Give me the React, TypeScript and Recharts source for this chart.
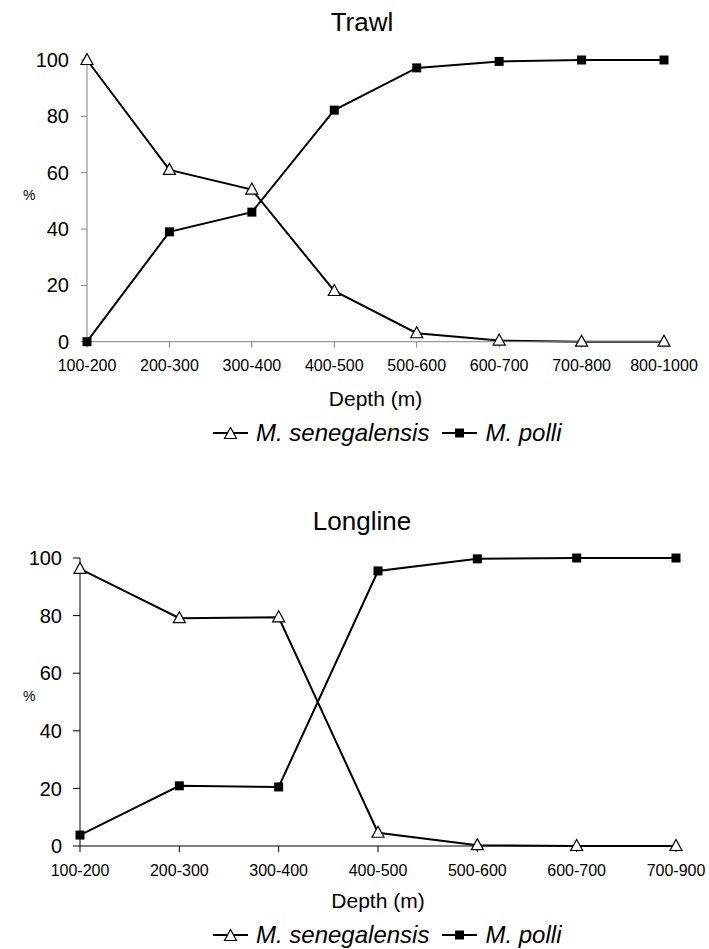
import React from 'react';
import { LineChart, Line, XAxis, YAxis, Legend } from 'recharts';

const FONT = '"Liberation Sans", Arial, sans-serif';

const trawlDepths = ['100-200', '200-300', '300-400', '400-500', '500-600', '600-700', '700-800', '800-1000'];
const trawlSenegalensis = [100, 61, 54, 18, 3, 0.4, 0, 0];
const trawlPolli = [0, 39, 46, 82.2, 97.2, 99.5, 100, 100];

const longlineDepths = ['100-200', '200-300', '300-400', '400-500', '500-600', '600-700', '700-900'];
const longlineSenegalensis = [96.2, 79.1, 79.4, 4.6, 0.3, 0, 0];
const longlinePolli = [3.8, 20.9, 20.5, 95.5, 99.7, 100, 100];

const yTicks = [0, 20, 40, 60, 80, 100];
const legendOrder = ['senegalensis', 'polli'];

const TriangleDot = ({ cx, cy }: any) => {
    if (cx == null || cy == null) return null;
    return (
        <path
            d={`M${cx},${cy - 6.5} L${cx + 6},${cy + 4.5} L${cx - 6},${cy + 4.5} Z`}
            fill="#fff"
            stroke="#000"
            strokeWidth={1.2}
        />
    );
};

const SquareDot = ({ cx, cy }: any) => {
    if (cx == null || cy == null) return null;
    return <rect x={cx - 4.5} y={cy - 4.5} width={9} height={9} fill="#000" />;
};

const LegendContent = ({ payload }: any) => {
    const items = [...(payload || [])].sort(
        (a: any, b: any) => legendOrder.indexOf(a.dataKey) - legendOrder.indexOf(b.dataKey)
    );
    return (
        <div style={{ display: 'flex', alignItems: 'center', paddingLeft: 213, fontFamily: FONT, fontStyle: 'italic', fontSize: 24, lineHeight: '26px', color: '#000' }}>
            {items.map((entry: any, i: number) => (
                <div key={entry.value} style={{ display: 'flex', alignItems: 'center', marginRight: i === 0 ? 13 : 0 }}>
                    <svg width={35} height={14}>
                        <line x1={0} y1={7} x2={35} y2={7} stroke="#000" strokeWidth={2} />
                        {entry.dataKey === 'senegalensis' ? <TriangleDot cx={17.5} cy={8} /> : <SquareDot cx={17.5} cy={7} />}
                    </svg>
                    <span style={{ marginLeft: 8 }}>{entry.value}</span>
                </div>
            ))}
        </div>
    );
};

interface DepthChartProps {
    title: string;
    depths: string[];
    senegalensis: number[];
    polli: number[];
    top: number;
    height: number;
    plotTop: number;
    plotBottom: number;
    plotLeft: number;
    plotRight: number;
    axisColor: string;
    yTickSize: number;
    yTickMargin: number;
    xTickMargin: number;
    titleTop: number;
    depthBaseline: number;
    legendTop: number;
}

const DepthChart: React.FC<DepthChartProps> = (p) => {
    const data = p.depths.map((d, i) => ({ depth: d, senegalensis: p.senegalensis[i], polli: p.polli[i] }));
    const xAxisHeight = 70;
    const marginBottom = p.height - p.plotBottom - xAxisHeight;

    return (
        <div style={{ position: 'absolute', left: 0, top: p.top, width: 709, height: p.height }}>
            <div style={{ position: 'absolute', left: 262, top: p.titleTop, width: 200, textAlign: 'center', fontFamily: FONT, fontSize: 26, lineHeight: '26px', color: '#000' }}>
                {p.title}
            </div>
            <LineChart
                width={709}
                height={p.height}
                data={data}
                margin={{ top: p.plotTop, right: 709 - p.plotRight, bottom: marginBottom, left: 0 }}
            >
                <XAxis
                    dataKey="depth"
                    interval={0}
                    height={xAxisHeight}
                    stroke={p.axisColor}
                    tickSize={6}
                    tickMargin={p.xTickMargin}
                    tick={{ fill: '#000', fontSize: 16, fontFamily: FONT }}
                    label={(lp: any) => {
                        const vb = lp.viewBox || {};
                        return (
                            <text x={vb.x + vb.width / 2} y={vb.y + p.depthBaseline} textAnchor="middle" fontSize={21} fontFamily={FONT} fill="#000">
                                Depth (m)
                            </text>
                        );
                    }}
                />
                <YAxis
                    domain={[0, 100]}
                    ticks={yTicks}
                    width={p.plotLeft}
                    stroke={p.axisColor}
                    tickSize={p.yTickSize}
                    tickMargin={p.yTickMargin}
                    tick={{ fill: '#000', fontSize: 20, fontFamily: FONT }}
                    label={(lp: any) => {
                        const vb = lp.viewBox || {};
                        return (
                            <text x={23} y={vb.y + vb.height / 2 - 6} dominantBaseline="central" fontSize={14} fontFamily={FONT} fill="#000">
                                %
                            </text>
                        );
                    }}
                />
                <Line
                    dataKey="senegalensis"
                    name="M. senegalensis"
                    stroke="#000"
                    strokeWidth={2}
                    isAnimationActive={false}
                    activeDot={false}
                    dot={(dp: any) => <TriangleDot key={`t-${dp.index}`} cx={dp.cx} cy={dp.cy} />}
                />
                <Line
                    dataKey="polli"
                    name="M. polli"
                    stroke="#000"
                    strokeWidth={2}
                    isAnimationActive={false}
                    activeDot={false}
                    dot={(dp: any) => <SquareDot key={`s-${dp.index}`} cx={dp.cx} cy={dp.cy} />}
                />
                <Legend
                    layout="horizontal"
                    verticalAlign="middle"
                    align="center"
                    wrapperStyle={{ position: 'absolute', left: 0, top: p.legendTop, width: 709 }}
                    content={<LegendContent />}
                />
            </LineChart>
        </div>
    );
};

const App: React.FC = () => (
    <div style={{ position: 'absolute', left: 0, top: 0, width: 709, height: 949, background: '#fff' }}>
        <DepthChart
            title="Trawl"
            depths={trawlDepths}
            senegalensis={trawlSenegalensis}
            polli={trawlPolli}
            top={0}
            height={470}
            plotTop={60}
            plotBottom={341.7}
            plotLeft={87}
            plotRight={664}
            axisColor="#808080"
            yTickSize={6}
            yTickMargin={12}
            xTickMargin={12}
            titleTop={9}
            depthBaseline={64}
            legendTop={420}
        />
        <DepthChart
            title="Longline"
            depths={longlineDepths}
            senegalensis={longlineSenegalensis}
            polli={longlinePolli}
            top={480}
            height={469}
            plotTop={78}
            plotBottom={366}
            plotLeft={80}
            plotRight={676}
            axisColor="#000"
            yTickSize={7}
            yTickMargin={11}
            xTickMargin={13}
            titleTop={28}
            depthBaseline={62}
            legendTop={442}
        />
    </div>
);

export default App;
